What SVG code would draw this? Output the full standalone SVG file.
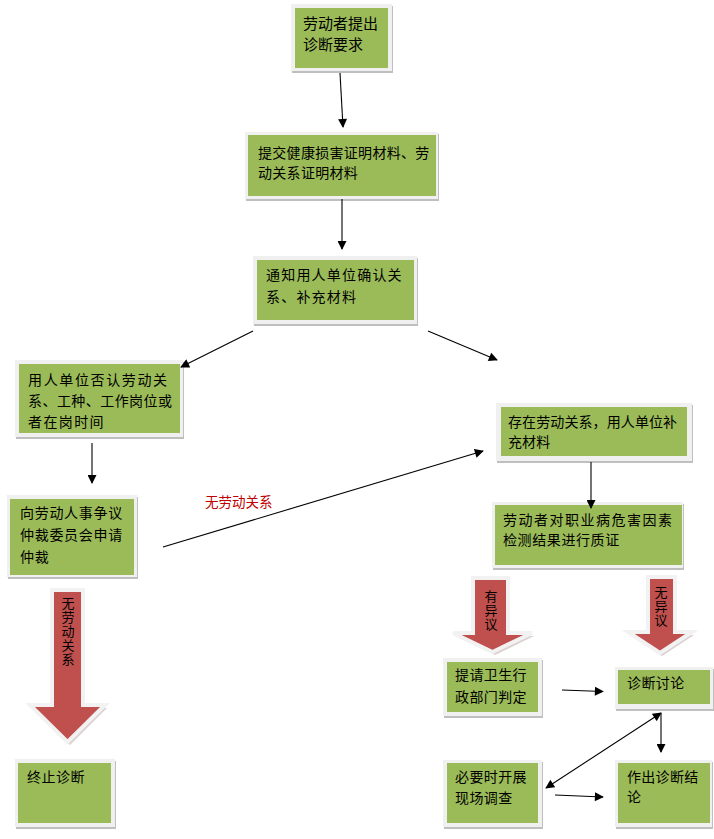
<svg xmlns="http://www.w3.org/2000/svg" width="714" height="839" viewBox="0 0 714 839">
<defs>
<style>
.sh{fill:#bfbfbf}
.fr{fill:#f0f0f0}
.gr{fill:#9bbb59}
.t{font-family:"Noto Sans CJK SC","Liberation Sans",sans-serif;font-size:14px;fill:#000}
.ln{stroke:#000;stroke-width:1.1;fill:none}
.ra{fill:#c0504d;stroke:#f2f2f2;stroke-width:4;stroke-linejoin:miter}
.rs{fill:#cdbcbc;opacity:0.7}
.vt{font-family:"Noto Sans CJK SC","Liberation Sans",sans-serif;font-size:13px;fill:#000;writing-mode:vertical-rl;letter-spacing:1px}
</style>
<marker id="ah" viewBox="0 0 10 10" refX="9" refY="5" markerWidth="10" markerHeight="9" markerUnits="userSpaceOnUse" orient="auto-start-reverse">
<path d="M0,0 L10,5 L0,10 Z" fill="#000"/>
</marker>
</defs>
<rect width="714" height="839" fill="#fff"/>

<g id="n1">
<rect class="sh" x="292" y="6" width="101" height="67"/>
<rect class="fr" x="291" y="4" width="101" height="67"/>
<rect class="gr" x="295" y="8" width="93" height="60"/>
<text class="t" x="303" y="29" style="font-size:15px">劳动者提出</text>
<text class="t" x="303" y="50" style="font-size:15px">诊断要求</text>
</g>

<g id="n2">
<rect class="sh" x="246" y="134" width="193" height="67"/>
<rect class="fr" x="245" y="132" width="193" height="67"/>
<rect class="gr" x="248" y="135" width="188" height="61"/>
<text class="t" x="258" y="158" letter-spacing="0.3">提交健康损害证明材料、劳</text>
<text class="t" x="258" y="178" letter-spacing="0.3">动关系证明材料</text>
</g>

<g id="n3">
<rect class="sh" x="254" y="258" width="164" height="68"/>
<rect class="fr" x="253" y="256" width="164" height="68"/>
<rect class="gr" x="257" y="260" width="157" height="60"/>
<text class="t" x="266" y="280" letter-spacing="1.2">通知用人单位确认关</text>
<text class="t" x="266" y="302" letter-spacing="1.2">系、补充材料</text>
</g>

<g id="n4">
<rect class="sh" x="16" y="362" width="168" height="77"/>
<rect class="fr" x="15" y="360" width="168" height="77"/>
<rect class="gr" x="19" y="364" width="161" height="69"/>
<text class="t" x="28" y="385" textLength="139" lengthAdjust="spacing">用人单位否认劳动关</text>
<text class="t" x="28" y="406" textLength="144" lengthAdjust="spacing">系、工种、工作岗位或</text>
<text class="t" x="28" y="427" letter-spacing="1.4">者在岗时间</text>
</g>

<g id="n5">
<rect class="sh" x="8" y="497" width="130" height="82"/>
<rect class="fr" x="7" y="495" width="130" height="82"/>
<rect class="gr" x="10" y="499" width="124" height="76"/>
<text class="t" x="20" y="518" letter-spacing="0.7">向劳动人事争议</text>
<text class="t" x="20" y="540" letter-spacing="0.7">仲裁委员会申请</text>
<text class="t" x="20" y="562" letter-spacing="0.7">仲裁</text>
</g>

<g id="n6">
<rect class="sh" x="16" y="761" width="100" height="68"/>
<rect class="fr" x="15" y="759" width="100" height="68"/>
<rect class="gr" x="18" y="763" width="93" height="60"/>
<text class="t" x="27" y="782" letter-spacing="0.5">终止诊断</text>
</g>

<g id="n7">
<rect class="sh" x="497" y="405" width="196" height="58"/>
<rect class="fr" x="496" y="403" width="196" height="58"/>
<rect class="gr" x="501" y="407" width="186" height="49"/>
<text class="t" x="508" y="427" letter-spacing="0.1">存在劳动关系，用人单位补</text>
<text class="t" x="508" y="447" letter-spacing="0.1">充材料</text>
</g>

<g id="n8">
<rect class="sh" x="493" y="504" width="191" height="66"/>
<rect class="fr" x="492" y="502" width="191" height="66"/>
<rect class="gr" x="495" y="505" width="187" height="60"/>
<text class="t" x="503" y="525" textLength="169" lengthAdjust="spacing">劳动者对职业病危害因素</text>
<text class="t" x="503" y="545" letter-spacing="0.6">检测结果进行质证</text>
</g>

<g id="n9">
<rect class="sh" x="444" y="660" width="99" height="58"/>
<rect class="fr" x="443" y="658" width="99" height="58"/>
<rect class="gr" x="447" y="662" width="91" height="50"/>
<text class="t" x="455" y="680" letter-spacing="0.4">提请卫生行</text>
<text class="t" x="455" y="702" letter-spacing="0.4">政部门判定</text>
</g>

<g id="n10">
<rect class="sh" x="616" y="669" width="98" height="42"/>
<rect class="fr" x="615" y="667" width="98" height="42"/>
<rect class="gr" x="618" y="670" width="92" height="34"/>
<text class="t" x="627" y="688" letter-spacing="0.4">诊断讨论</text>
</g>

<g id="n11">
<rect class="sh" x="444" y="762" width="99" height="67"/>
<rect class="fr" x="443" y="760" width="99" height="67"/>
<rect class="gr" x="447" y="763" width="91" height="60"/>
<text class="t" x="455" y="782" letter-spacing="0.4">必要时开展</text>
<text class="t" x="455" y="803" letter-spacing="0.4">现场调查</text>
</g>

<g id="n12">
<rect class="sh" x="616" y="762" width="97" height="67"/>
<rect class="fr" x="615" y="760" width="97" height="67"/>
<rect class="gr" x="618" y="763" width="92" height="60"/>
<text class="t" x="627" y="782" letter-spacing="0.3">作出诊断结</text>
<text class="t" x="627" y="802" letter-spacing="0.3">论</text>
</g>

<g id="bigarrows">
<polygon class="rs" points="54,593 85,593 85,708 107,708 70,745 32,708 54,708"/>
<polygon class="ra" points="52,590 83,590 83,705 105,705 67.5,742 30,705 52,705"/>
<text class="vt" x="68" y="597">无劳动关系</text>

<polygon class="rs" points="475,581 510,581 510,636 534,636 495,655 455,636 475,636"/>
<polygon class="ra" points="473,578 508,578 508,633 532,633 492.5,652 453,633 473,633"/>
<text class="vt" x="491" y="590">有异议</text>

<polygon class="rs" points="650,580 677,580 677,635 694,635 662,656 630,635 650,635"/>
<polygon class="ra" points="648,577 675,577 675,632 692,632 660,653 628,632 648,632"/>
<text class="vt" x="661" y="586">无异议</text>
</g>

<g id="connectors">
<line class="ln" x1="340" y1="73" x2="343" y2="127" marker-end="url(#ah)"/>
<line class="ln" x1="342" y1="199" x2="342" y2="249" marker-end="url(#ah)"/>
<line class="ln" x1="253" y1="331" x2="181" y2="367" marker-end="url(#ah)"/>
<line class="ln" x1="428" y1="331" x2="497" y2="360" marker-end="url(#ah)"/>
<line class="ln" x1="92" y1="443" x2="92" y2="483" marker-end="url(#ah)"/>
<line class="ln" x1="163" y1="547" x2="483" y2="451" marker-end="url(#ah)"/>
<text x="205" y="507" style="font-family:'Noto Sans CJK SC','Liberation Sans',sans-serif;font-size:13.5px;fill:#c00000">无劳动关系</text>
<line class="ln" x1="591" y1="462" x2="591" y2="508" marker-end="url(#ah)"/>
<line class="ln" x1="562" y1="690" x2="603" y2="691.5" marker-end="url(#ah)"/>
<line class="ln" x1="661" y1="713" x2="661" y2="752" marker-end="url(#ah)"/>
<line class="ln" x1="661" y1="713" x2="546" y2="788" marker-start="url(#ah)" marker-end="url(#ah)"/>
<line class="ln" x1="555" y1="795" x2="603" y2="797" marker-end="url(#ah)"/>
</g>
</svg>
